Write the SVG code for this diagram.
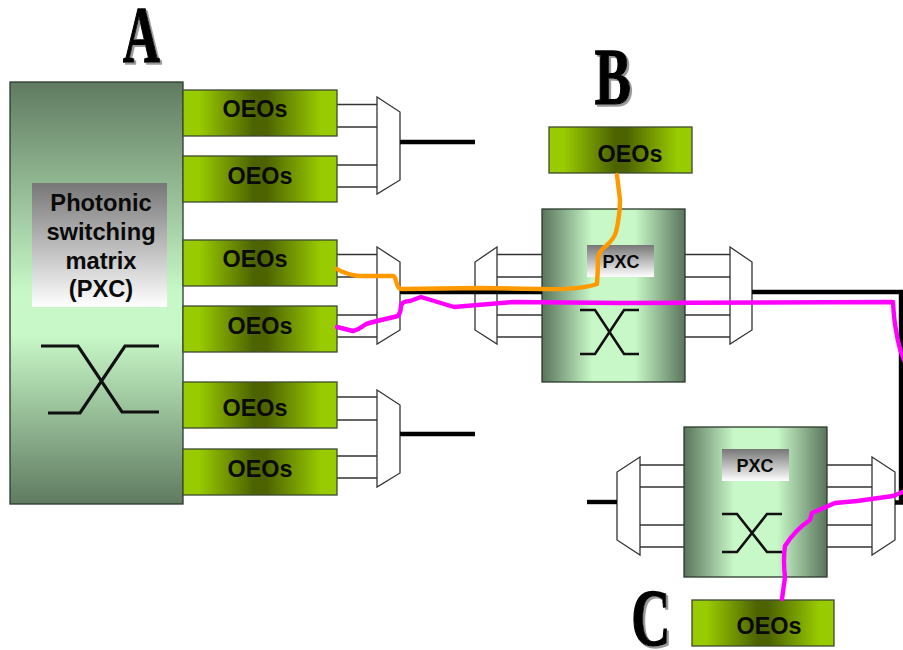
<svg xmlns="http://www.w3.org/2000/svg" width="903" height="650" viewBox="0 0 903 650">
<style>
.oeo{fill:url(#gOeo);stroke:#3c4a30;stroke-width:1.3}
.t{font-family:"Liberation Sans",Arial,sans-serif;font-weight:bold;fill:#0a0a0a;text-anchor:middle}
.o{font-size:23.4px}
.p{font-size:18px}
.big{font-size:23.7px}
.pxc{fill:url(#gPxc);stroke:#2c3a2c;stroke-width:1.3}
.lab{fill:url(#gLab)}
.mux{fill:#fff;stroke:#333;stroke-width:1.3}
.thin{fill:none;stroke:#333;stroke-width:1.3}
.x{fill:none;stroke:#111;stroke-width:2.6}
.x3{fill:none;stroke:#111;stroke-width:3.2}
.thick{fill:none;stroke:#000;stroke-width:4.4}
.or{fill:none;stroke:#f90;stroke-width:4.4;stroke-linejoin:round;stroke-linecap:round}
.ma{fill:none;stroke:#f0f;stroke-width:4.4;stroke-linejoin:round;stroke-linecap:round}
.L{font-family:"Liberation Serif","Times New Roman",serif;font-weight:bold;font-size:80px;fill:#000;stroke:#000;stroke-width:1.5;text-anchor:middle;filter:url(#sh)}
</style>
<defs>
<linearGradient id="gOeo" x1="0" x2="1" y1="0" y2="0"><stop offset="0" stop-color="#99cc00"/><stop offset=".1" stop-color="#99cc00"/><stop offset=".46" stop-color="#4d6300"/><stop offset=".54" stop-color="#4d6300"/><stop offset=".9" stop-color="#99cc00"/><stop offset="1" stop-color="#99cc00"/></linearGradient>
<linearGradient id="gPxc" x1="0" x2="1" y1="0" y2="0"><stop offset="0" stop-color="#5a745c"/><stop offset=".35" stop-color="#c8f8c8"/><stop offset=".65" stop-color="#c8f8c8"/><stop offset="1" stop-color="#5a745c"/></linearGradient>
<linearGradient id="gBig" x1="0" x2="0" y1="0" y2="1"><stop offset="0" stop-color="#5f7a60"/><stop offset=".5" stop-color="#c8f8c8"/><stop offset=".6" stop-color="#c8f8c8"/><stop offset="1" stop-color="#5f7a60"/></linearGradient>
<linearGradient id="gLab" x1="0" x2="0" y1="0" y2="1"><stop offset="0" stop-color="#777"/><stop offset="1" stop-color="#fff"/></linearGradient>
<filter id="sh" x="-30%" y="-30%" width="160%" height="160%"><feDropShadow dx="3" dy="2" stdDeviation=".6" flood-color="#999"/></filter>
</defs>
<rect width="903" height="650" fill="#fff"/>

<g id="letter-a"><text class="L" transform="translate(141.500 62) scale(.64 1)">A</text></g>
<g id="letter-b"><text class="L" transform="translate(613 104) scale(.68 1)">B</text></g>
<g id="letter-c"><text class="L" transform="translate(651 645) scale(.68 1)">C</text></g>

<g id="connectors-thin">
<path class="thin" d="M332 104.500H377M332 127H377M332 165H377M332 187H377M332 254.500H377M332 277H377M332 315H377M332 337H377M332 397H377M332 420H377M332 456H377M332 478H377"/>
<path class="thin" d="M497 254.500H542M497 277H542M497 315H542M497 337H542M685 254.500H730M685 277H730M685 315H730M685 337H730"/>
<path class="thin" d="M640 465H684M640 487H684M640 525H684M640 547H684M827 465H872M827 487H872M827 525H872M827 547H872"/>
</g>

<g id="switch-a">
<rect x="10" y="82" width="173" height="422" fill="url(#gBig)" stroke="#2c3a2c" stroke-width="1.3"/>
<rect class="lab" x="32" y="183" width="135" height="124"/>
<text class="t big" x="101" y="211">Photonic</text>
<text class="t big" x="101" y="240">switching</text>
<text class="t big" x="101" y="269">matrix</text>
<text class="t big" x="101" y="297">(PXC)</text>
<path class="x3" d="M41 346H78L122 412H159M48 413H80L125 346H159"/>
</g>

<g id="oeo-a1"><rect class="oeo" x="183" y="90" width="154" height="46"/><text class="t o" x="255" y="117">OEOs</text></g>
<g id="oeo-a2"><rect class="oeo" x="183" y="156" width="154" height="46"/><text class="t o" x="260" y="184">OEOs</text></g>
<g id="oeo-a3"><rect class="oeo" x="183" y="240" width="154" height="46"/><text class="t o" x="255" y="267">OEOs</text></g>
<g id="oeo-a4"><rect class="oeo" x="183" y="306" width="154" height="46"/><text class="t o" x="260" y="334">OEOs</text></g>
<g id="oeo-a5"><rect class="oeo" x="183" y="382" width="154" height="46"/><text class="t o" x="255" y="416">OEOs</text></g>
<g id="oeo-a6"><rect class="oeo" x="183" y="449" width="154" height="46"/><text class="t o" x="260" y="477">OEOs</text></g>

<g id="mux-a1"><path class="mux" d="M377 97L400 112V180L377 194Z"/></g>
<g id="mux-a2"><path class="mux" d="M377 247L400 262V330L377 344Z"/></g>
<g id="mux-a3"><path class="mux" d="M377 390L400 405V473L377 487Z"/></g>

<g id="oeo-b"><rect class="oeo" x="549" y="127" width="143" height="46"/><text class="t o" x="630" y="162">OEOs</text></g>
<g id="switch-b">
<rect class="pxc" x="542" y="209" width="143" height="173"/>
<rect class="lab" x="587" y="245" width="67" height="32"/>
<text class="t p" x="621" y="268">PXC</text>
<path class="x" d="M580 310H595L624 354H639M580 354H595L624 310H639"/>
</g>
<g id="mux-b1"><path class="mux" d="M497 247L475 262V330L497 344Z"/></g>
<g id="mux-b2"><path class="mux" d="M730 247L752 262V330L730 344Z"/></g>

<g id="switch-c">
<rect class="pxc" x="684" y="427" width="143" height="150"/>
<rect class="lab" x="722" y="449" width="67" height="32"/>
<text class="t p" x="755" y="472">PXC</text>
<path class="x" d="M722 514H737L767 552H782M722 552H737L767 514H782"/>
</g>
<g id="mux-c1"><path class="mux" d="M640 457L617 472V540L640 555Z"/></g>
<g id="mux-c2"><path class="mux" d="M872 457L895 472V540L872 555Z"/></g>
<g id="oeo-c"><rect class="oeo" x="692" y="600" width="142" height="46"/><text class="t o" x="769" y="634">OEOs</text></g>

<g id="connectors">
<path class="thick" d="M400 142H475M400 434H475M400 292H542"/>
<path class="thick" d="M752 292H901V502.500H895"/>
<path class="thick" d="M587 502H617"/>
<path class="or" d="M337 269Q345 274 358 276L393 276Q395 276 396 281Q398 289 401 289L480 288L540 289Q580 290 597 284Q598 272 598 258Q599 251 606 246Q614 239 616 232Q620 215 620 200L617 175"/>
<path class="ma" d="M337 327L353 331Q358 330 366 324Q372 322 398 316Q401 312 401 306Q402 301 410 301L421 297L454 307L513 302L620 303L893 302Q894 320 896 330Q899 350 905 362"/>
<path class="ma" d="M905 491L893 496L857 501L835 503L812 513L810 520Q795 530 785 546Q783 560 785 577L782 599"/>
</g>
</svg>
